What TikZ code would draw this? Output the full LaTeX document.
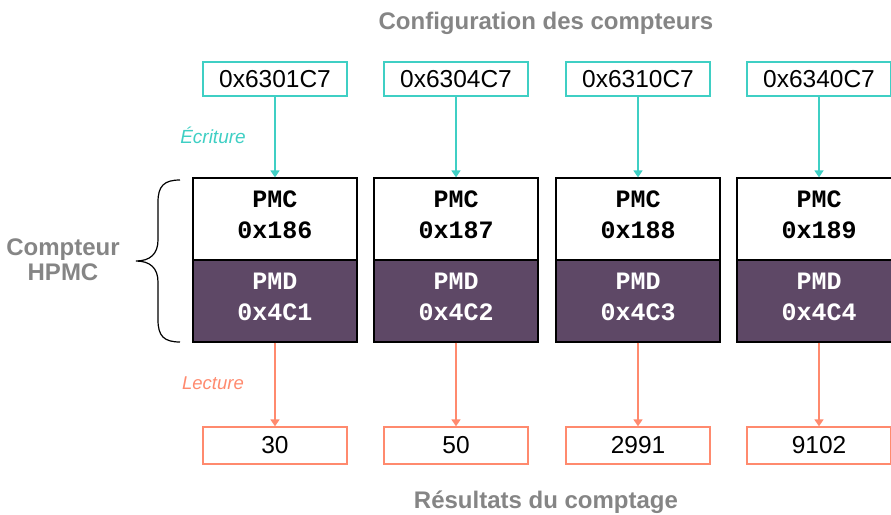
\documentclass[tikz,border=0pt]{standalone}
\usepackage{fontspec}
\setmainfont{Liberation Sans}
\newfontfamily\monofont{Liberation Mono}
\usepackage{xcolor}
\usepackage{tikz}
\usetikzlibrary{arrows.meta, positioning}
\definecolor{ecrit}{HTML}{3FCFC4}
\definecolor{lect}{HTML}{FF8A6E}
\definecolor{prune}{HTML}{5E4866}
\definecolor{gristitre}{HTML}{858585}
\tikzset{
      valeur/.style     = {rectangle, draw=ecrit, line width=1.3pt, inner sep=0pt,
                           minimum width=144pt, minimum height=34pt,
                           font=\fontsize{24.5}{26}\selectfont},
      resultat/.style   = {valeur, draw=lect, minimum height=37pt},
      pmc/.style        = {rectangle, draw=black, line width=1.2pt, fill=white,
                           minimum width=164pt, minimum height=82pt, inner sep=0pt,
                           text depth=8pt, align=center,
                           font=\monofont\bfseries\fontsize{25}{31}\selectfont},
      pmd/.style        = {pmc, fill=prune, text=white},
      ecriture/.style   = {-{Triangle[width=9pt,length=7pt]}, ecrit, line width=1.6pt},
      lecture/.style    = {ecriture, lect},
      titlelabel/.style = {gristitre, font=\bfseries\fontsize{24}{25}\selectfont, align=center}
    }
\begin{document}
\begin{tikzpicture}[x=1pt, y=-1pt]
  \clip (0,0) rectangle (891,514);
  % Titles
  \node[titlelabel] (conftitle) at (546,23) {Configuration des compteurs};
  \node[titlelabel] (restitle) at (546,502) {Résultats du comptage};
  \node[titlelabel] (hpmc) at (63,260) {Compteur\\HPMC};
  % Values written
  \node[valeur] (cfgA) at (275,79) {0x6301C7};
  \node[valeur] (cfgB) at (456,79) {0x6304C7};
  \node[valeur] (cfgC) at (638,79) {0x6310C7};
  \node[valeur] (cfgD) at (819,79) {0x6340C7};
  % Counter registers
  \node[pmc] (pmcA) at (275,219) {PMC\\0x186};
  \node[pmc] (pmcB) at (456,219) {PMC\\0x187};
  \node[pmc] (pmcC) at (638,219) {PMC\\0x188};
  \node[pmc] (pmcD) at (819,219) {PMC\\0x189};
  \node[pmd] (pmdA) at (275,301) {PMD\\0x4C1};
  \node[pmd] (pmdB) at (456,301) {PMD\\0x4C2};
  \node[pmd] (pmdC) at (638,301) {PMD\\0x4C3};
  \node[pmd] (pmdD) at (819,301) {PMD\\0x4C4};
  % Values read
  \node[resultat] (resA) at (275,445.5) {30};
  \node[resultat] (resB) at (456,445.5) {50};
  \node[resultat] (resC) at (638,445.5) {2991};
  \node[resultat] (resD) at (819,445.5) {9102};
  % Write arrows
  \draw[ecriture] (cfgA) -- (pmcA);
  \draw[ecriture] (cfgB) -- (pmcB);
  \draw[ecriture] (cfgC) -- (pmcC);
  \draw[ecriture] (cfgD) -- (pmcD);
  % Read arrows
  \draw[lecture] (pmdA) -- (resA);
  \draw[lecture] (pmdB) -- (resB);
  \draw[lecture] (pmdC) -- (resC);
  \draw[lecture] (pmdD) -- (resD);
  % Arrow labels
  \node[ecrit, font=\itshape\fontsize{19}{22}\selectfont] (ecritlabel) at (213,135) {Écriture};
  \node[lect, font=\itshape\fontsize{18.5}{22}\selectfont] (lectlabel) at (213,383) {Lecture};
  % Brace
  \draw[line width=1.2pt] (180,180) .. controls (164,180) and (158,186) .. (158,202)
    -- (158,240) .. controls (158,254) and (150,261) .. (136,261)
    .. controls (150,261) and (158,268) .. (158,282)
    -- (158,320) .. controls (158,336) and (164,342) .. (180,342);
\end{tikzpicture}
\end{document}
